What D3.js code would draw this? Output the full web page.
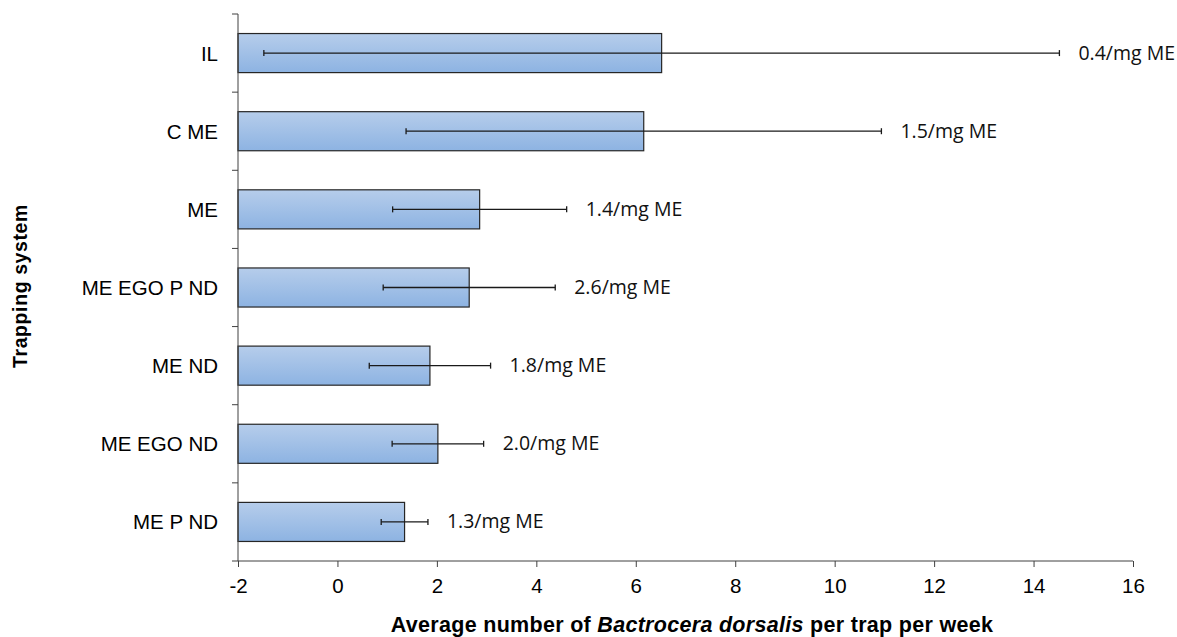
<!DOCTYPE html>
<html>
<head>
<meta charset="utf-8">
<script src="https://cdn.jsdelivr.net/npm/d3@7/dist/d3.min.js"></script>
<style>
  html, body { margin: 0; padding: 0; background: #fff; }
  svg { display: block; }
</style>
</head>
<body>
<svg id="chart" width="1177" height="637"></svg>
<script>
const categories = ["IL", "C ME", "ME", "ME EGO P ND", "ME ND", "ME EGO ND", "ME P ND"];
const means = [6.52, 6.16, 2.86, 2.65, 1.86, 2.02, 1.35];
const errors = [8.0, 4.78, 1.75, 1.73, 1.22, 0.92, 0.47];
const barLabels = ["0.4/mg ME", "1.5/mg ME", "1.4/mg ME", "2.6/mg ME", "1.8/mg ME", "2.0/mg ME", "1.3/mg ME"];
const xTicks = [-2, 0, 2, 4, 6, 8, 10, 12, 14, 16];

(function () {
const data = categories.map((c, i) => ({ cat: c, mean: means[i], err: errors[i], label: barLabels[i] }));

const svg = d3.select("#chart");
const pLeft = 238, pRight = 1133, pTop = 14, pBottom = 561;

const x = d3.scaleLinear().domain([-2, 16]).range([pLeft, pRight]);
const y = d3.scaleBand().domain(categories).range([pTop, pBottom]).paddingInner(0.5).paddingOuter(0.25);

const defs = svg.append("defs");
const grad = defs.append("linearGradient").attr("id", "barGrad")
  .attr("x1", 0).attr("y1", 0).attr("x2", 0).attr("y2", 1);
grad.append("stop").attr("offset", "0%").attr("stop-color", "#b6cdeb");
grad.append("stop").attr("offset", "100%").attr("stop-color", "#8db3e2");

// bars
svg.append("g").selectAll("rect").data(data).join("rect")
  .attr("x", x(-2))
  .attr("y", d => y(d.cat))
  .attr("width", d => x(d.mean) - x(-2))
  .attr("height", y.bandwidth())
  .attr("fill", "url(#barGrad)")
  .attr("stroke", "#262626")
  .attr("stroke-width", 1.2);

// error bars
const eb = svg.append("g").attr("stroke", "#1a1a1a").attr("stroke-width", 1.3);
data.forEach(d => {
  const cy = y(d.cat) + y.bandwidth() / 2;
  eb.append("line").attr("x1", x(d.mean - d.err)).attr("x2", x(d.mean + d.err)).attr("y1", cy).attr("y2", cy);
  [d.mean - d.err, d.mean + d.err].forEach(v => {
    eb.append("line").attr("x1", x(v)).attr("x2", x(v)).attr("y1", cy - 3).attr("y2", cy + 3);
  });
});

// bar labels
svg.append("g").selectAll("text").data(data).join("text")
  .attr("x", d => x(d.mean + d.err) + 19)
  .attr("y", d => y(d.cat) + y.bandwidth() / 2 - 1)
  .attr("dominant-baseline", "central")
  .attr("font-family", "'Open Sans', sans-serif")
  .attr("font-size", 19.5)
  .attr("fill", "#111")
  .text(d => d.label);

// x axis
const xAxis = svg.append("g").attr("transform", `translate(0,${pBottom})`)
  .call(d3.axisBottom(x).tickValues(xTicks).tickSize(6).tickPadding(11).tickFormat(d3.format("d")));
xAxis.select(".domain").attr("stroke", "#404040").attr("d", `M${pLeft},0H${pRight}`);
xAxis.selectAll(".tick line").attr("stroke", "#404040");
xAxis.selectAll(".tick text")
  .attr("font-family", "'Liberation Sans', Arial, sans-serif")
  .attr("font-size", 20.5)
  .attr("fill", "#000")
  .text(d => d < 0 ? "-" + Math.abs(d) : d);

// y axis with ticks at band boundaries
const yAxisG = svg.append("g").attr("transform", `translate(${pLeft},0)`);
yAxisG.append("line").attr("x1", 0).attr("x2", 0).attr("y1", pTop).attr("y2", pBottom).attr("stroke", "#404040");
const step = (pBottom - pTop) / categories.length;
d3.range(categories.length + 1).forEach(i => {
  yAxisG.append("line").attr("x1", -6).attr("x2", 0)
    .attr("y1", pTop + i * step).attr("y2", pTop + i * step).attr("stroke", "#404040");
});
yAxisG.selectAll("text.cat").data(categories).join("text")
  .attr("class", "cat")
  .attr("x", -20)
  .attr("y", d => y(d) + y.bandwidth() / 2)
  .attr("dominant-baseline", "central")
  .attr("text-anchor", "end")
  .attr("font-family", "'Liberation Sans', Arial, sans-serif")
  .attr("font-size", 20.5)
  .attr("fill", "#000")
  .text(d => d);

// x title
const xt = svg.append("text")
  .attr("x", 692).attr("y", 632)
  .attr("text-anchor", "middle")
  .attr("font-family", "'Liberation Sans', Arial, sans-serif")
  .attr("font-size", 21.5)
  .attr("font-weight", "bold")
  .attr("letter-spacing", 0.3)
  .attr("fill", "#000");
xt.append("tspan").text("Average number of ");
xt.append("tspan").attr("font-style", "italic").text("Bactrocera dorsalis");
xt.append("tspan").text(" per trap per week");

// y title
svg.append("text")
  .attr("transform", "translate(27,286) rotate(-90)")
  .attr("text-anchor", "middle")
  .attr("font-family", "'Liberation Sans', Arial, sans-serif")
  .attr("font-size", 19.5)
  .attr("font-weight", "bold")
  .attr("letter-spacing", 0.6)
  .attr("fill", "#000")
  .text("Trapping system");
})();
</script>
</body>
</html>
